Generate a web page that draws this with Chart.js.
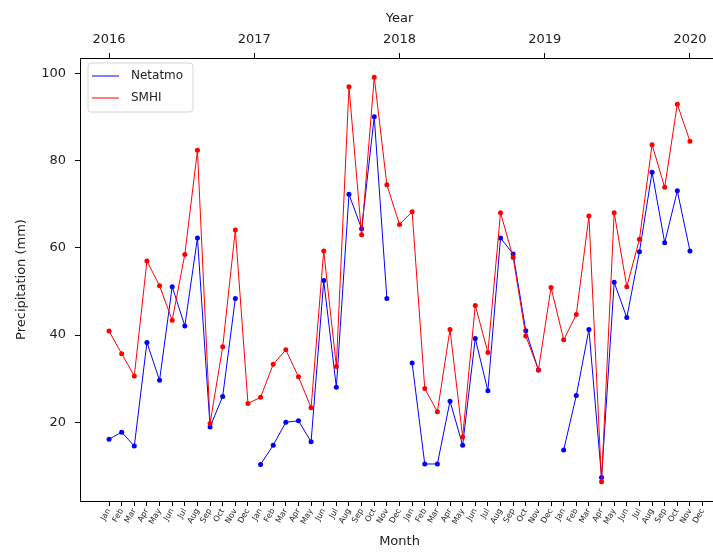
<!DOCTYPE html>
<html>
<head>
<meta charset="utf-8">
<script src="https://cdn.jsdelivr.net/npm/chart.js@4.4.1/dist/chart.umd.min.js"></script>
<style>
  body { margin: 0; overflow: hidden; background: #fff; }
  #wrap { width: 723px; height: 552px; }
</style>
</head>
<body>
<div id="wrap"><canvas id="mycanvas" width="723" height="552"></canvas></div>
<script>
// monthly precipitation, Jan 2016 - Nov 2019
var months = ['Jan','Feb','Mar','Apr','May','Jun','Jul','Aug','Sep','Oct','Nov','Dec'];
var yearLabels = ['2016','2017','2018','2019','2020'];
var yearTickAt = [0, 11.5, 23, 34.5, 46];
var yTicks = [20, 40, 60, 80, 100];

var netatmo = [16.1, 17.7, 14.5, 38.3, 29.6, 51.1, 42.1, 62.3, 18.9, 25.9, 48.4, null,
               10.3, 14.7, 20.0, 20.3, 15.5, 52.5, 28.0, 72.3, 64.4, 90.1, 48.4, null,
               33.6, 10.4, 10.4, 24.8, 14.7, 39.2, 27.2, 62.3, 58.6, 41.0, 32.0, null,
               13.6, 26.1, 41.3, 7.3, 52.1, 44.0, 59.1, 77.4, 61.2, 73.1, 59.3];
var smhi = [40.9, 35.7, 30.6, 57.0, 51.3, 43.4, 58.5, 82.4, 19.7, 37.3, 64.1, 24.3,
            25.7, 33.3, 36.6, 30.4, 23.3, 59.3, 32.8, 97.0, 63.0, 99.2, 74.5, 65.4,
            68.3, 27.7, 22.4, 41.3, 16.6, 46.8, 36.0, 68.1, 57.8, 39.8, 32.0, 50.9,
            38.9, 44.7, 67.3, 6.3, 68.1, 51.1, 62.0, 83.7, 73.9, 93.0, 84.5];

var monthTicks = [];
for (var k = 0; k < 4; k++) {
	monthTicks = monthTicks.concat(months);
}

function toPoints(arr) {
	return arr.map(function(v, i){ return {x: i, y: v}; });
}

var FONT = 'DejaVu Sans';

// legend drawn inside the plot, top-left
var innerLegend = {
	id: 'innerLegend',
	afterDraw: function(chart) {
		var ctx = chart.ctx;
		var a = chart.chartArea;
		var x = a.left + 8, y = a.top + 5, w = 105, h = 49, r = 3;
		ctx.save();
		ctx.beginPath();
		ctx.moveTo(x + r, y);
		ctx.arcTo(x + w, y, x + w, y + h, r);
		ctx.arcTo(x + w, y + h, x, y + h, r);
		ctx.arcTo(x, y + h, x, y, r);
		ctx.arcTo(x, y, x + w, y, r);
		ctx.closePath();
		ctx.fillStyle = 'rgba(255,255,255,0.8)';
		ctx.fill();
		ctx.strokeStyle = '#d6d6d6';
		ctx.lineWidth = 1;
		ctx.stroke();
		var items = [chart.data.datasets[0], chart.data.datasets[1]];
		ctx.font = '12px "' + FONT + '"';
		ctx.textBaseline = 'middle';
		for (var i = 0; i < items.length; i++) {
			var ly = y + 13 + i * 22;
			ctx.strokeStyle = items[i].borderColor;
			ctx.lineWidth = 1;
			ctx.beginPath();
			ctx.moveTo(x + 4, ly);
			ctx.lineTo(x + 31, ly);
			ctx.stroke();
			ctx.fillStyle = '#222';
			ctx.fillText(items[i].label, x + 43, ly);
		}
		ctx.restore();
	}
};

var ctx = document.getElementById('mycanvas');
var chart = new Chart(ctx, {
	type: 'line',
	data: {
		datasets: [
			{
				label: 'Netatmo',
				data: toPoints(netatmo),
				borderColor: '#0000ff',
				backgroundColor: '#0000ff',
				borderWidth: 1,
				pointRadius: 2.5,
				pointBorderWidth: 0,
				spanGaps: false,
				tension: 0,
				order: 2
			},
			{
				label: 'SMHI',
				data: toPoints(smhi),
				borderColor: '#ff0000',
				backgroundColor: '#ff0000',
				borderWidth: 1,
				pointRadius: 2.5,
				pointBorderWidth: 0,
				tension: 0,
				order: 1
			}
		]
	},
	options: {
		responsive: false,
		animation: false,
		layout: { padding: { left: 0, right: 3, top: 0, bottom: 0 } },
		plugins: {
			legend: { display: false },
			tooltip: { enabled: false }
		},
		scales: {
			x: {
				type: 'linear',
				position: 'bottom',
				min: -2.3,
				max: 48.3,
				afterBuildTicks: function(scale) {
					scale.ticks = monthTicks.map(function(m, i){ return {value: i}; });
				},
				afterFit: function(scale) { scale.height = 51; },
				ticks: {
					autoSkip: false,
					minRotation: 60,
					maxRotation: 60,
					padding: 1,
					color: '#222',
					font: { family: FONT, size: 8 },
					callback: function(v) { return monthTicks[v]; }
				},
				grid: { drawOnChartArea: false, tickLength: 5, color: '#000' },
				border: { display: true, color: '#000', width: 1 },
				title: {
					display: true,
					text: 'Month',
					color: '#222',
					font: { family: FONT, size: 13 },
					padding: { top: 0, bottom: 3 }
				}
			},
			x2: {
				type: 'linear',
				position: 'top',
				min: -2.3,
				max: 48.3,
				afterBuildTicks: function(scale) {
					scale.ticks = yearTickAt.map(function(p){ return {value: p}; });
				},
				afterFit: function(scale) { scale.height = 58; },
				ticks: {
					autoSkip: false,
					maxRotation: 0,
					padding: 6,
					color: '#222',
					font: { family: FONT, size: 13 },
					callback: function(v) { return yearLabels[yearTickAt.indexOf(v)]; }
				},
				grid: { drawOnChartArea: false, tickLength: 5, color: '#000' },
				border: { display: true, color: '#000', width: 1 },
				title: {
					display: true,
					text: 'Year',
					color: '#222',
					font: { family: FONT, size: 13 },
					padding: { top: 11, bottom: 0 }
				}
			},
			y: {
				type: 'linear',
				position: 'left',
				min: 1.9,
				max: 103.6,
				afterBuildTicks: function(scale) {
					scale.ticks = yTicks.map(function(v){ return {value: v}; });
				},
				afterFit: function(scale) { scale.width = 80; },
				ticks: {
					padding: 9,
					color: '#222',
					font: { family: FONT, size: 13 }
				},
				grid: { drawOnChartArea: false, tickLength: 5, color: '#000' },
				border: { display: true, color: '#000', width: 1 },
				title: {
					display: true,
					text: 'Precipitation (mm)',
					color: '#222',
					font: { family: FONT, size: 13 },
					padding: { top: 14, bottom: 0 }
				}
			}
		}
	},
	plugins: [innerLegend]
});
</script>
</body>
</html>
